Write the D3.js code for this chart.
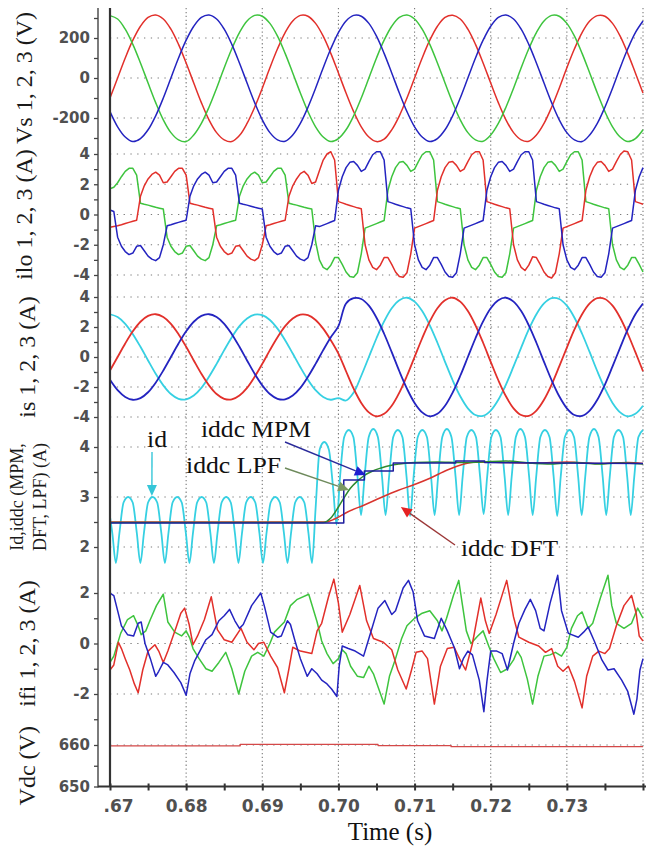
<!DOCTYPE html>
<html>
<head>
<meta charset="utf-8">
<script src="https://cdn.jsdelivr.net/npm/d3@7/dist/d3.min.js"></script>
<style>
  body { margin: 0; background: #fff; }
  svg { display: block; }
</style>
</head>
<body>
<svg id="chart" width="646" height="852"></svg>
<script>
// ---------------------------------------------------------------
// Recorded waveforms, 0.67 s – 0.74 s
// ---------------------------------------------------------------
const T0 = 0.67;        // first sample (s)
const DT_1MS = 0.001;   // spacing of Vs and is records (s)
const DT_HALF = 0.0005; // spacing of ilo records (s)

// Source voltages Vs1..3 (V), one sample per ms
const vsRed = [-100,0,100,189,259,303,315,295,244,168,75,-25,-123,-209,-273,-309,-318,-288,-227,-146,-51,
  51,146,227,285,313,309,273,209,123,25,-75,-168,-244,-295,-318,-306,-259,-189,-100,
  0,100,189,259,303,314,295,244,168,75,-25,-123,-209,-273,-309,-316,-285,-227,-146,-51,
  51,146,227,285,312,309,273,209,123,25,-75];
const vsGreen = [312,295,244,168,75,-25,-123,-209,-273,-309,-318,-285,-227,-146,-51,51,146,227,285,313,309,273,209,123,25,-75,-168,-244,-295,-318,-303,-259,-189,-100,0,100,189,259,303,
  315,295,244,168,75,-25,-123,-209,-273,-309,-316,-285,-227,-146,-51,51,146,227,285,313,309,273,209,123,25,-75,-168,-244,-295,-318,-303,-259];
const vsBlue = [-168,-244,-295,-318,-303,-259,-189,-100,0,100,189,259,303,315,295,244,168,75,-25,-123,-209,-273,-309,-316,-285,-227,-146,-51,51,146,227,285,313,309,273,209,123,25,-75,
  -168,-244,-295,-318,-303,-259,-189,-100,0,100,189,259,303,315,295,244,168,75,-25,-123,-209,-273,-309,-318,-285,-227,-146,-51,51,146,227,285];

// Load currents ilo1..3 (A), one sample per 0.5 ms
const iloRed = [-0.85,-0.8,-0.75,-0.68,-0.6,-0.52,-0.45,-0.38,
  1.2,1.9,2.35,2.65,2.8,2.6,2.1,2.15,2.5,2.85,3.05,3.05,2.6,
  0.75,0.68,0.62,0.55,0.48,0.42,0.36,
  -1.5,-2.1,-2.45,-2.65,-2.55,-2.1,-2.05,-2.4,-2.75,-2.95,-3.05,-2.85,-2.0,
  -0.75,-0.68,-0.6,-0.52,-0.45,-0.38,
  1.2,1.9,2.35,2.7,2.85,2.6,2.05,2.15,2.9,3.6,4.0,4.15,3.6,
  0.85,0.77,0.68,0.6,0.52,0.44,0.38,
  -2.0,-3.0,-3.5,-3.65,-3.35,-2.85,-2.85,-3.3,-3.8,-4.1,-4.15,-3.85,-2.6,
  -0.9,-0.8,-0.7,-0.6,-0.5,-0.4,
  1.6,2.5,3.1,3.45,3.5,3.25,2.85,3.0,3.5,3.95,4.15,4.15,3.6,
  0.85,0.77,0.68,0.6,0.52,0.44,0.38,
  -2.0,-3.0,-3.5,-3.7,-3.35,-2.8,-2.85,-3.3,-3.8,-4.1,-4.2,-3.85,-2.6,
  -0.9,-0.8,-0.7,-0.6,-0.5,-0.4,
  1.6,2.5,3.1,3.45,3.5,3.25,2.85,3.0,3.5,3.95,4.2,4.15,3.6,
  0.85,0.77,0.68];
const iloGreen = [1.7,1.8,2.1,2.5,2.85,3.05,3.05,2.6,
  0.75,0.68,0.62,0.55,0.48,0.42,0.36,
  -1.5,-2.1,-2.45,-2.65,-2.55,-2.1,-2.05,-2.4,-2.75,-2.95,-3.05,-2.85,-2.0,
  -0.75,-0.68,-0.6,-0.52,-0.45,-0.38,
  1.2,1.9,2.35,2.65,2.8,2.6,2.1,2.15,2.5,2.85,3.05,3.05,2.6,
  0.75,0.68,0.62,0.55,0.48,0.42,0.36,
  -1.8,-3.0,-3.5,-3.65,-3.35,-2.85,-2.85,-3.3,-3.8,-4.1,-4.15,-3.85,-2.6,
  -0.9,-0.8,-0.7,-0.6,-0.5,-0.4,
  1.6,2.5,3.1,3.45,3.5,3.25,2.85,3.0,3.5,3.95,4.15,4.15,3.6,
  0.85,0.77,0.68,0.6,0.52,0.44,0.38,
  -2.0,-3.0,-3.5,-3.65,-3.35,-2.85,-2.85,-3.3,-3.8,-4.1,-4.15,-3.85,-2.6,
  -0.9,-0.8,-0.7,-0.6,-0.5,-0.4,
  1.6,2.5,3.1,3.45,3.5,3.25,2.85,3.0,3.5,3.95,4.15,4.15,3.6,
  0.85,0.77,0.68,0.6,0.52,0.44,0.38,
  -2.0,-3.0,-3.5,-3.65,-3.35,-2.85,-2.85,-3.3,-3.8];
const iloBlue = [0.3,0.2,
  -1.5,-2.1,-2.45,-2.65,-2.55,-2.1,-2.05,-2.4,-2.75,-2.95,-3.05,-2.85,-2.0,
  -0.75,-0.68,-0.6,-0.52,-0.45,-0.38,
  1.2,1.9,2.35,2.65,2.8,2.6,2.1,2.15,2.5,2.85,3.05,3.05,2.6,
  0.75,0.68,0.62,0.55,0.48,0.42,0.36,
  -1.5,-2.1,-2.45,-2.65,-2.55,-2.1,-2.05,-2.4,-2.75,-2.95,-3.05,-2.85,-2.0,
  -0.75,-0.8,-0.7,-0.6,-0.5,-0.4,
  1.6,2.5,3.1,3.45,3.5,3.25,2.85,3.0,3.5,3.95,4.15,4.15,3.6,
  0.85,0.77,0.68,0.6,0.52,0.44,0.38,
  -2.0,-3.0,-3.5,-3.65,-3.35,-2.85,-2.85,-3.3,-3.8,-4.1,-4.15,-3.85,-2.6,
  -0.9,-0.8,-0.7,-0.6,-0.5,-0.4,
  1.6,2.5,3.1,3.45,3.5,3.25,2.85,3.0,3.5,3.95,4.15,4.15,3.6,
  0.85,0.77,0.68,0.6,0.52,0.44,0.38,
  -2.0,-3.0,-3.5,-3.65,-3.35,-2.85,-2.85,-3.3,-3.8,-4.1,-4.15,-3.85,-2.6,
  -0.9,-0.8,-0.7,-0.6,-0.5,-0.4,
  1.6,2.5,3.1];

// Source currents is1..3 (A), one sample per ms
const isRed = [-0.90,0,0.90,1.71,2.35,2.74,2.85,2.66,2.21,1.52,0.68,-0.23,-1.12,-1.89,-2.47,-2.79,-2.83,-2.57,-2.06,-1.32,-0.46,
  0.46,1.32,2.06,2.57,2.83,2.79,2.47,1.89,1.12,0.23,
  -0.95,-2.11,-3.06,-3.69,-3.95,-3.79,-3.25,-2.37,-1.25,0,1.25,2.37,3.25,3.79,3.95,3.69,3.06,2.11,0.95,-0.32,
  -1.55,-2.62,-3.42,-3.87,-3.92,-3.57,-2.85,-1.84,-0.63,0.63,1.84,2.85,3.57,3.92,3.87,3.42,2.62,1.55,0.32,-0.95];
const isCyan = [2.85,2.66,2.21,1.52,0.68,-0.23,-1.12,-1.89,-2.47,-2.79,-2.83,-2.57,-2.06,-1.32,-0.46,
  0.46,1.32,2.06,2.57,2.83,2.79,2.47,1.89,1.12,0.23,-0.68,-1.52,-2.21,-2.66,-2.85,-2.74,
  -2.9,-2.37,-1.25,0,1.25,2.37,3.25,3.79,3.95,3.69,3.06,2.11,0.95,-0.32,-1.55,-2.62,-3.42,-3.87,-3.92,-3.57,
  -2.85,-1.84,-0.63,0.63,1.84,2.85,3.57,3.92,3.87,3.42,2.62,1.55,0.32,-0.95,-2.11,-3.06,-3.69,-3.95,-3.79,-3.25];
const isBlue = [-1.52,-2.21,-2.66,-2.85,-2.74,-2.35,-1.71,-0.90,0,0.90,1.71,2.35,2.74,2.85,2.66,2.21,1.52,0.68,-0.23,-1.12,
  -1.89,-2.47,-2.79,-2.83,-2.57,-2.06,-1.32,-0.46,0.46,1.32,2.06,
  3.57,3.92,3.87,3.42,2.62,1.55,0.32,-0.95,-2.11,-3.06,-3.69,-3.95,-3.79,-3.25,-2.37,-1.25,0,1.25,2.37,3.25,
  3.79,3.95,3.69,3.06,2.11,0.95,-0.32,-1.55,-2.62,-3.42,-3.87,-3.92,-3.57,-2.85,-1.84,-0.63,0.63,1.84,2.85,3.57];

// Traces below are [ms after 0.67 s, value]
// DC-side current id (A)
const idTrace = [[0,2.6],[0.31,2.27],[0.77,1.68],
  [1.23,2.27],[1.78,2.89],[2.38,3.0],[2.98,2.89],[3.53,2.27],[3.99,1.68],
  [4.45,2.27],[5.0,2.89],[5.6,3.0],[6.2,2.89],[6.75,2.27],[7.21,1.68],
  [7.67,2.27],[8.22,2.89],[8.82,3.0],[9.42,2.89],[9.97,2.27],[10.43,1.68],
  [10.89,2.27],[11.44,2.89],[12.04,3.0],[12.64,2.89],[13.19,2.27],[13.65,1.68],
  [14.11,2.27],[14.66,2.89],[15.26,3.0],[15.86,2.89],[16.41,2.27],[16.87,1.68],
  [17.33,2.27],[17.88,2.89],[18.48,3.0],[19.08,2.89],[19.63,2.27],[20.09,1.68],
  [20.55,2.27],[21.1,2.89],[21.7,3.0],[22.3,2.89],[22.85,2.27],[23.31,1.68],
  [23.77,2.27],[24.32,2.89],[24.92,3.0],[25.52,2.89],[26.07,2.27],[26.53,1.68],
  [27.0,2.77],[27.54,3.95],[28.14,4.1],[28.74,3.95],[29.29,3.2],[29.75,2.45],
  [30.21,3.4],[30.76,4.2],[31.36,4.34],[31.96,4.2],[32.51,3.4],[32.97,2.64],
  [33.43,3.4],[33.98,4.2],[34.58,4.36],[35.18,4.2],[35.73,3.4],[36.19,2.64],
  [36.65,3.4],[37.2,4.2],[37.8,4.34],[38.4,4.2],[38.95,3.4],[39.41,2.62],
  [39.87,3.4],[40.42,4.2],[41.02,4.34],[41.62,4.2],[42.17,3.4],[42.63,2.64],
  [43.09,3.4],[43.64,4.2],[44.24,4.36],[44.84,4.2],[45.39,3.4],[45.85,2.64],
  [46.31,3.4],[46.86,4.2],[47.46,4.34],[48.06,4.2],[48.61,3.4],[49.07,2.66],
  [49.53,3.4],[50.08,4.2],[50.68,4.34],[51.28,4.2],[51.83,3.4],[52.29,2.64],
  [52.75,3.4],[53.3,4.2],[53.9,4.36],[54.5,4.2],[55.05,3.4],[55.51,2.64],
  [55.97,3.4],[56.52,4.2],[57.12,4.34],[57.72,4.2],[58.27,3.4],[58.73,2.62],
  [59.19,3.4],[59.74,4.2],[60.34,4.34],[60.94,4.2],[61.49,3.4],[61.95,2.64],
  [62.41,3.4],[62.96,4.2],[63.56,4.36],[64.16,4.2],[64.71,3.4],[65.17,2.64],
  [65.63,3.4],[66.18,4.2],[66.78,4.34],[67.38,4.2],[67.93,3.4],[68.39,2.64],
  [68.85,3.4],[69.4,4.2],[70.0,4.34]];
// Estimated DC current iddc by three methods (A)
const iddcMPM = [[0,2.48],[30.7,2.48],[30.7,3.34],[33.4,3.34],[33.4,3.52],[37.2,3.52],[37.2,3.68],
  [45.4,3.68],[45.4,3.72],[49.2,3.72],[49.2,3.69],[70,3.67]];
const iddcLPF = [[0,2.49],[28.0,2.49],[29.0,2.58],[30.0,2.8],[30.8,3.0],[31.6,3.18],[32.5,3.32],[33.4,3.43],
  [34.5,3.52],[35.6,3.58],[36.8,3.63],[38,3.66],[40,3.69],[43,3.7],[46,3.69],[49,3.7],[52,3.72],[55,3.68],
  [58,3.66],[61,3.69],[64,3.66],[67,3.68],[70,3.66]];
const iddcDFT = [[0,2.5],[28.3,2.5],[29.5,2.56],[31.2,2.7],[33.4,2.84],[35.6,2.99],[37.8,3.13],[40,3.25],
  [42.1,3.38],[44.3,3.54],[46.5,3.66],[48,3.7],[52,3.69],[56,3.68],[60,3.7],[64,3.67],[68,3.69],[70,3.67]];

// Filter currents ifi1..3 (A)
const ifiRed = [[0,-1.05],[0.5,-0.85],[1.1,0.05],[1.5,-0.2],[2.0,-0.6],[2.6,-1.05],[3.2,-1.6],[3.7,-1.95],[4.3,-1.05],
  [5.0,-0.3],[5.9,-0.05],[6.4,-0.3],[7.0,-0.75],[7.6,-0.3],[8.7,0.65],[9.3,1.2],[9.8,1.4],[10.4,0.75],[10.9,-0.05],
  [11.5,0.3],[12.4,0.95],[13.3,1.85],[14.1,0.55],[15.0,0.15],[16.0,0.05],[17.2,0.6],[18.0,0.05],[18.9,-0.25],
  [19.5,0.0],[20.2,0.05],[21.1,-0.5],[22.0,-0.95],[22.9,-1.95],[23.5,-1.0],[24.0,-0.15],[25.0,-0.3],[26.5,-0.4],
  [27.2,0.5],[27.8,0.8],[28.7,1.85],[29.4,2.55],[30.0,1.6],[30.5,0.45],[31.5,1.15],[32.8,2.3],[33.7,0.9],
  [34.6,0.2],[35.9,0.05],[37.0,-0.25],[37.8,-1.05],[38.9,-1.8],[39.6,-1.05],[40.2,-0.35],[41.0,-0.3],[41.7,-0.6],
  [42.6,-2.4],[43.4,-0.9],[44.3,-0.2],[45.2,-0.15],[45.9,-0.6],[46.7,-1.05],[47.6,0.0],[48.7,1.8],[49.3,0.9],
  [49.8,0.4],[50.7,1.15],[52.1,2.5],[53.0,1.05],[53.7,0.25],[55.0,0.05],[56.3,-0.1],[57.2,-0.35],[58.0,-0.2],
  [58.8,-0.9],[59.5,-1.1],[60.2,-0.9],[61.0,-1.5],[62.0,-2.55],[62.6,-1.3],[63.4,-0.5],[64.2,-0.3],[65.0,-0.4],
  [65.6,-0.2],[66.5,0.7],[67.5,1.5],[68.5,1.9],[69.1,1.2],[69.5,0.3],[70,0.1]];
const ifiGreen = [[0,-0.75],[0.5,-0.5],[1.4,0.4],[2.3,0.95],[3.1,1.1],[3.7,0.7],[4.1,0.35],[4.7,0.5],[5.3,0.95],
  [6.1,1.5],[7.0,1.95],[7.6,0.85],[8.5,0.45],[9.4,0.3],[10.0,0.5],[10.5,0.2],[10.9,-0.2],[11.7,-0.6],[12.6,-1.0],
  [13.4,-1.1],[14.3,-0.75],[15.2,-0.35],[16.0,-1.0],[16.9,-2.0],[17.7,-1.1],[18.6,-0.5],[19.4,-0.35],[20.2,-0.5],
  [21.0,0.0],[21.6,0.45],[22.9,0.85],[23.7,1.5],[24.6,1.75],[26.1,1.95],[27.2,0.85],[27.8,0.1],[28.5,-0.4],
  [29.3,-0.8],[30.0,-0.6],[30.5,-0.25],[31.0,-0.4],[31.6,-0.9],[32.5,-1.3],[33.3,-1.35],[34.0,-0.9],[34.6,-1.2],
  [35.3,-1.8],[36.0,-2.4],[36.7,-1.3],[37.5,-0.6],[38.3,0.2],[39.0,0.7],[40.0,1.0],[41.0,1.2],[42.0,1.3],
  [43.0,0.9],[43.6,0.5],[44.2,1.0],[45.1,1.9],[45.8,2.5],[46.3,1.5],[46.8,0.5],[47.4,0.0],[48.3,0.3],[49.0,0.5],
  [49.8,-0.15],[50.4,-0.6],[51.3,-1.15],[52.2,-1.0],[53.0,-0.65],[53.5,-0.3],[54.0,-0.55],[54.8,-1.4],[55.5,-2.4],
  [56.2,-1.3],[57.0,-0.5],[57.8,-0.45],[58.5,-0.35],[59.3,-0.5],[60.0,-0.15],[60.6,0.6],[61.4,1.1],[62.0,1.25],
  [62.8,0.6],[63.4,0.8],[64.4,1.8],[65.4,2.7],[65.9,1.5],[66.5,0.8],[67.5,0.6],[68.5,0.8],[69.3,1.4],[70,1.0]];
const ifiBlue = [[0,2.0],[0.5,1.9],[1.0,1.3],[1.5,0.7],[2.3,0.35],[3.1,0.3],[3.7,0.8],[4.1,0.85],[4.6,0.0],[5.3,-0.6],
  [6.0,-1.3],[6.4,-1.1],[7.0,-0.75],[7.6,-0.85],[8.4,-1.15],[9.3,-1.55],[10.0,-2.05],[10.5,-1.2],[11.1,-0.7],
  [11.8,-0.3],[12.6,0.15],[13.4,0.35],[14.3,0.9],[15.0,1.1],[15.7,1.35],[16.4,0.9],[17.0,0.6],[17.5,0.75],
  [18.6,1.5],[19.8,2.0],[20.3,1.45],[21.1,0.45],[22.0,0.25],[22.5,0.3],[23.3,0.9],[23.7,0.75],[24.3,0.1],
  [25.0,-0.6],[25.9,-1.3],[26.5,-1.0],[27.2,-1.2],[27.8,-1.45],[28.5,-1.6],[29.1,-1.8],[29.8,-2.1],[30.1,-0.9],
  [30.5,-0.1],[31.3,-0.2],[32.2,-0.3],[33.3,-0.5],[34.0,0.2],[35.2,1.4],[36.1,1.7],[37.0,1.15],[37.5,1.3],
  [38.5,2.2],[39.2,2.5],[39.8,2.05],[40.4,0.9],[41.3,0.3],[42.6,0.2],[43.5,1.0],[44.3,0.5],[45.2,-0.15],
  [45.9,-1.0],[46.4,-0.6],[47.0,-0.3],[47.6,-0.45],[48.5,-1.45],[49.1,-2.7],[49.5,-1.5],[50.0,-0.3],[50.8,-0.3],
  [51.5,-0.4],[52.2,-1.05],[53.0,0.0],[53.7,0.8],[54.5,1.35],[55.2,1.75],[55.9,1.3],[56.5,0.6],[57.0,0.5],
  [57.8,1.6],[58.8,2.7],[59.3,1.3],[60.2,0.4],[61.5,0.25],[62.2,0.45],[62.8,0.65],[63.6,0.1],[64.6,-0.65],
  [65.4,-1.05],[66.2,-1.0],[67.2,-1.45],[68.0,-1.9],[68.8,-2.8],[69.2,-2.2],[69.6,-1.05],[70,-0.6]];

// DC-link voltage Vdc (V)
const vdcTrace = [[0,659.8],[17.1,659.8],[17.1,660.15],[35.2,660.15],[35.2,659.85],[44.8,659.85],[44.8,659.6],[70,659.6]];

// Axis ticks
const timeTicks = [0.67,0.68,0.69,0.70,0.71,0.72,0.73,0.74];
const timeMinorTicks = [0.675,0.685,0.695,0.705,0.715,0.725,0.735];

// ---------------------------------------------------------------
const uniform = (vals, dt) => vals.map((v, i) => ({ t: T0 + i * dt, v }));
const traced = pts => pts.map(([ms, v]) => ({ t: T0 + ms / 1000, v }));

const C = {
  red: "#e2302b", green: "#3ec43e", blue: "#2424c0", cyan: "#36d0e2",
  mpm: "#1e1e9e", lpf: "#2f8a2f", dft: "#d9342e", vdc: "#d44848"
};

const svg = d3.select("#chart");
const X_LEFT = 110, X_RIGHT = 643, AXIS_X = 98, TOP = 8, BOTTOM = 786.5;
const x = d3.scaleLinear().domain([0.67, 0.74]).range([X_LEFT, X_RIGHT]);

const panels = [
  { domain: [-200, 200], range: [118, 38], major: [200, 0, -200], minor: [300, 100, -100, -300],
    title: ["Vs 1, 2, 3 (V)"], titleX: [32], titleSize: 24,
    series: [
      { data: uniform(vsRed, DT_1MS), color: C.red, curve: d3.curveCatmullRom },
      { data: uniform(vsGreen, DT_1MS), color: C.green, curve: d3.curveCatmullRom },
      { data: uniform(vsBlue, DT_1MS), color: C.blue, curve: d3.curveCatmullRom } ] },
  { domain: [-4, 4], range: [275, 154], major: [4, 2, 0, -2, -4], minor: [3, 1, -1, -3],
    title: ["ilo 1, 2, 3 (A)"], titleX: [32], titleSize: 24,
    series: [
      { data: uniform(iloGreen, DT_HALF), color: C.green, curve: d3.curveLinear },
      { data: uniform(iloRed, DT_HALF), color: C.red, curve: d3.curveLinear },
      { data: uniform(iloBlue, DT_HALF), color: C.blue, curve: d3.curveLinear } ] },
  { domain: [-4, 4], range: [417, 297], major: [4, 2, 0, -2, -4], minor: [3, 1, -1, -3],
    title: ["is 1, 2, 3 (A)"], titleX: [35], titleSize: 24,
    series: [
      { data: uniform(isCyan, DT_1MS), color: C.cyan, curve: d3.curveCatmullRom, width: 1.8 },
      { data: uniform(isRed, DT_1MS), color: C.red, curve: d3.curveCatmullRom, width: 1.8 },
      { data: uniform(isBlue, DT_1MS), color: C.blue, curve: d3.curveCatmullRom, width: 1.8 } ] },
  { domain: [2, 4], range: [547, 447], major: [4, 3, 2], minor: [3.5, 2.5],
    title: ["Id,iddc (MPM,", "DFT, LPF) (A)"], titleX: [23, 46], titleSize: 18,
    series: [
      { data: traced(idTrace), color: C.cyan, curve: d3.curveMonotoneX, width: 1.8 },
      { data: traced(iddcDFT), color: C.dft, curve: d3.curveMonotoneX },
      { data: traced(iddcLPF), color: C.lpf, curve: d3.curveMonotoneX },
      { data: traced(iddcMPM), color: C.mpm, curve: d3.curveLinear } ] },
  { domain: [-2, 2], range: [694, 593], major: [2, 0, -2], minor: [1, -1, -3],
    title: ["ifi 1, 2, 3 (A)"], titleX: [35], titleSize: 24,
    series: [
      { data: traced(ifiGreen), color: C.green, curve: d3.curveLinear },
      { data: traced(ifiRed), color: C.red, curve: d3.curveLinear },
      { data: traced(ifiBlue), color: C.blue, curve: d3.curveLinear } ] },
  { domain: [650, 660], range: [786.5, 745], major: [660, 650], minor: [655],
    title: ["Vdc (V)"], titleX: [35], titleSize: 24,
    series: [ { data: traced(vdcTrace), color: C.vdc, curve: d3.curveLinear, width: 1.3 } ] }
];

const gGrid = svg.append("g");
const gData = svg.append("g");
const gAxes = svg.append("g");
const gNotes = svg.append("g");

// vertical dotted grid
gGrid.selectAll("line.vgrid").data(timeTicks.slice(1)).join("line")
  .attr("x1", d => x(d)).attr("x2", d => x(d)).attr("y1", TOP).attr("y2", BOTTOM)
  .attr("stroke", "#7a7a7a").attr("stroke-width", 1.1).attr("stroke-dasharray", "1.3,2.6");

panels.forEach(p => {
  p.y = d3.scaleLinear().domain(p.domain).range(p.range);
  const gridVals = p.major.filter(v => v !== 650);
  gGrid.selectAll(null).data(gridVals).join("line")
    .attr("x1", X_LEFT).attr("x2", X_RIGHT).attr("y1", d => p.y(d)).attr("y2", d => p.y(d))
    .attr("stroke", "#7a7a7a").attr("stroke-width", 1.1).attr("stroke-dasharray", "1.3,5.5");

  p.series.forEach(s => {
    const line = d3.line().x(d => x(d.t)).y(d => p.y(d.v)).curve(s.curve);
    gData.append("path").datum(s.data)
      .attr("d", line).attr("fill", "none")
      .attr("stroke", s.color).attr("stroke-width", s.width || 1.5)
      .attr("stroke-linejoin", "round");
  });

  const ax = d3.axisLeft(p.y).tickValues(p.major).tickSize(4).tickPadding(4)
    .tickFormat(d => String(d));
  const g = gAxes.append("g").attr("transform", `translate(${AXIS_X},0)`).call(ax);
  g.select(".domain").remove();
  g.selectAll(".tick line").attr("stroke", "#444").attr("stroke-width", 1.3);
  g.selectAll("text").attr("fill", "#505050")
    .style("font-family", "'DejaVu Sans', sans-serif").style("font-weight", "bold").style("font-size", "15px");

  const axm = d3.axisLeft(p.y).tickValues(p.minor).tickSize(4).tickFormat("");
  const gm = gAxes.append("g").attr("transform", `translate(${AXIS_X},0)`).call(axm);
  gm.select(".domain").remove();
  gm.selectAll(".tick line").attr("stroke", "#444").attr("stroke-width", 1.3);

  // panel title, rotated
  const yc = (p.range[0] + p.range[1]) / 2;
  p.title.forEach((txt, i) => {
    gAxes.append("text")
      .attr("transform", `translate(${p.titleX[i]},${yc}) rotate(-90)`)
      .attr("text-anchor", "middle")
      .style("font-family", "'Liberation Serif', 'Times New Roman', serif")
      .style("font-size", p.titleSize + "px").attr("fill", "#1a1a1a")
      .text(txt);
  });
});

// time axis
const xa = d3.axisBottom(x).tickValues(timeTicks).tickSize(4).tickPadding(9)
  .tickFormat(d => d === 0.67 ? ".67" : (d === 0.74 ? "" : d3.format(".2f")(d)));
const gx = gAxes.append("g").attr("transform", `translate(0,${BOTTOM})`).call(xa);
gx.select(".domain").remove();
gx.selectAll(".tick line").attr("y1", -3).attr("y2", 4).attr("stroke", "#333").attr("stroke-width", 2);
gx.selectAll("text").attr("fill", "#505050")
  .style("font-family", "'DejaVu Sans', sans-serif").style("font-weight", "bold").style("font-size", "17px");
gx.selectAll(".tick").filter(d => d === 0.67).select("text").attr("dx", 8);

const gxm = gAxes.append("g").attr("transform", `translate(0,${BOTTOM})`)
  .call(d3.axisBottom(x).tickValues(timeMinorTicks).tickSize(4).tickFormat(""));
gxm.select(".domain").remove();
gxm.selectAll(".tick line").attr("y1", -3).attr("y2", 4).attr("stroke", "#333").attr("stroke-width", 2);

// frame lines
gAxes.append("line").attr("x1", AXIS_X).attr("x2", AXIS_X).attr("y1", TOP).attr("y2", BOTTOM + 1)
  .attr("stroke", "#444").attr("stroke-width", 1.4);
gAxes.append("line").attr("x1", X_LEFT).attr("x2", X_LEFT).attr("y1", TOP).attr("y2", BOTTOM)
  .attr("stroke", "#333").attr("stroke-width", 2.2);
gAxes.append("line").attr("x1", AXIS_X).attr("x2", 646).attr("y1", BOTTOM).attr("y2", BOTTOM)
  .attr("stroke", "#333").attr("stroke-width", 2);

gAxes.append("text").attr("x", 390).attr("y", 840).attr("text-anchor", "middle")
  .style("font-family", "'Liberation Serif', 'Times New Roman', serif").style("font-size", "25px")
  .attr("fill", "#111").text("Time (s)");

// annotations in the current panel
const yId = panels[3].y;
const notes = [
  { label: "id", tip: [5.5, 3.02], tail: [152, 452], at: [147, 447], len: 20, line: "#35c6d8", head: "#35c6d8" },
  { label: "iddc MPM", tip: [33.6, 3.44], tail: [285, 442], at: [201, 437], len: 110, line: "#2a2a9a", head: "#1f1fd0" },
  { label: "iddc LPF", tip: [31.4, 3.14], tail: [285, 468], at: [186, 473], len: 95, line: "#6e8a5c", head: "#7c9a62" },
  { label: "iddc DFT", tip: [38.2, 2.8], tail: [455, 545], at: [461, 556], len: 97, line: "#9c3838", head: "#e52222" }
];
notes.forEach(n => {
  const tx = x(T0 + n.tip[0] / 1000), ty = yId(n.tip[1]);
  const [sx, sy] = n.tail;
  const dx = tx - sx, dy = ty - sy, L = Math.hypot(dx, dy);
  const ux = dx / L, uy = dy / L, hl = 11, hw = 5;
  const bx = tx - ux * hl, by = ty - uy * hl;
  gNotes.append("line").attr("x1", sx).attr("y1", sy).attr("x2", bx).attr("y2", by)
    .attr("stroke", n.line).attr("stroke-width", 1.4);
  gNotes.append("path")
    .attr("d", `M${tx},${ty}L${bx - uy * hw},${by + ux * hw}L${bx + uy * hw},${by - ux * hw}Z`)
    .attr("fill", n.head);
  gNotes.append("text").attr("x", n.at[0]).attr("y", n.at[1])
    .attr("textLength", n.len).attr("lengthAdjust", "spacingAndGlyphs")
    .style("font-family", "'Liberation Serif', 'Times New Roman', serif").style("font-size", "23px")
    .attr("fill", "#111").text(n.label);
});
</script>
</body>
</html>
